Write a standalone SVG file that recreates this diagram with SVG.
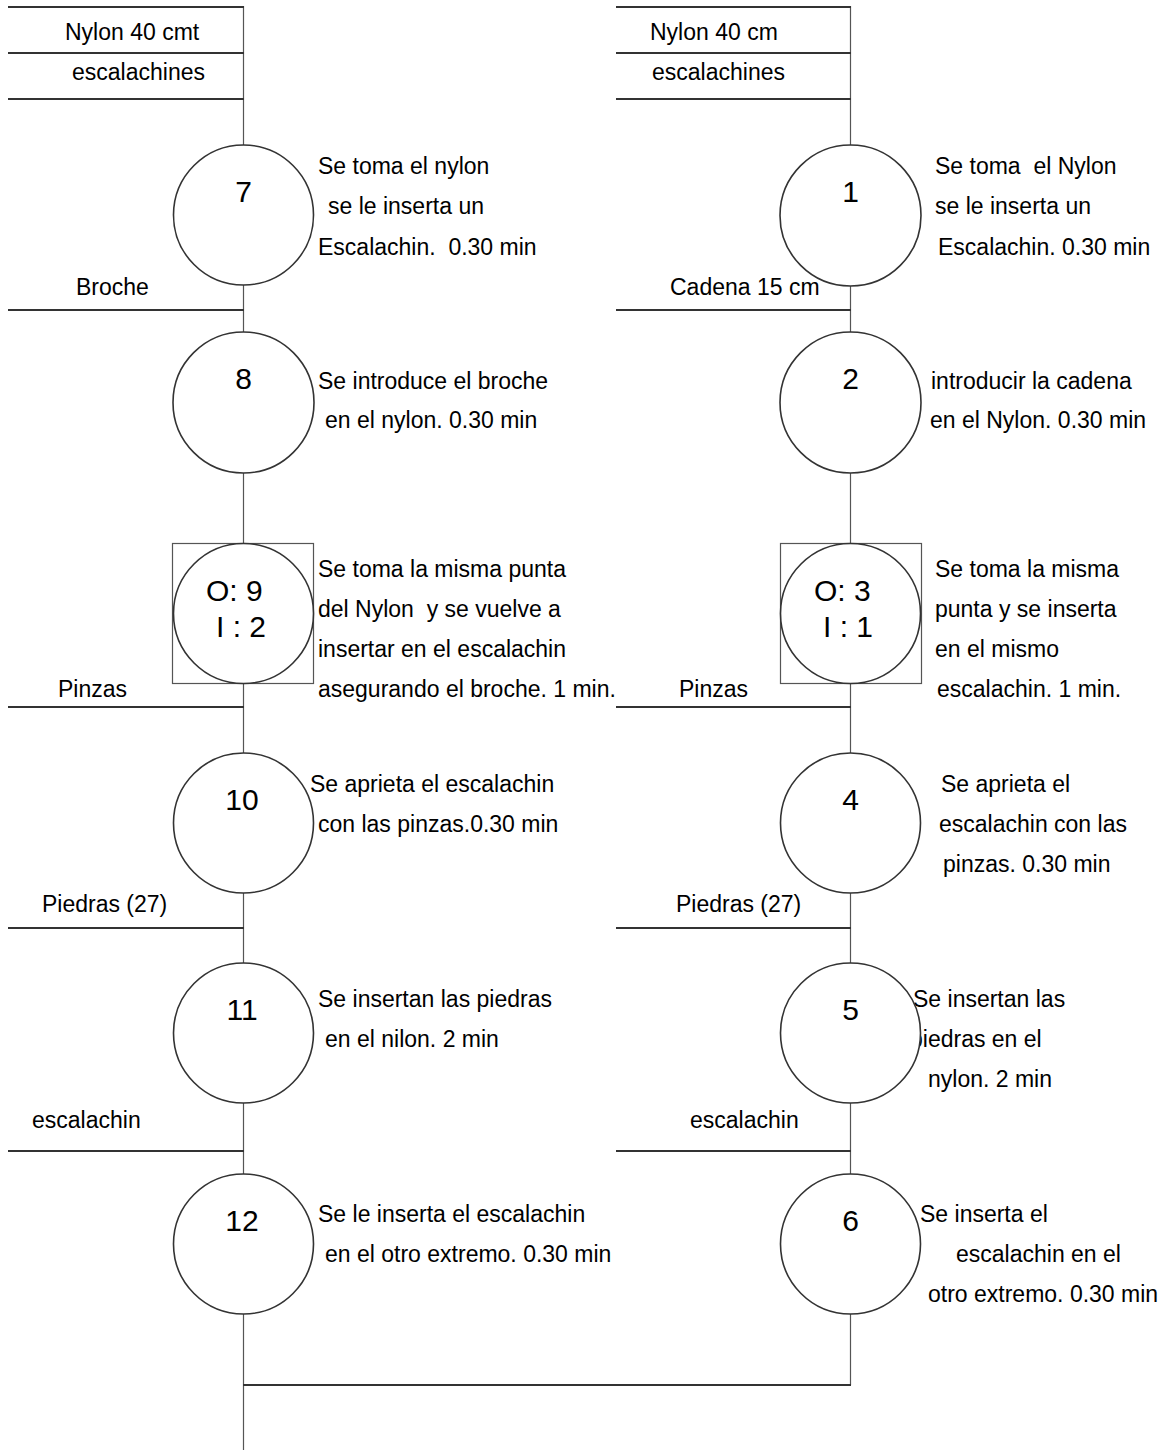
<svg xmlns="http://www.w3.org/2000/svg" width="1171" height="1451" viewBox="0 0 1171 1451">
<style>
text{font-family:"Liberation Sans",Arial,sans-serif;font-size:23px;fill:#000;white-space:pre}
.num{font-size:30px;text-anchor:middle}
.oi{font-size:30px}
.h{stroke:#333;stroke-width:2;fill:none}
.v{stroke:#555;stroke-width:1.2;fill:none}
.op{fill:#fff;stroke:#333;stroke-width:1.6}
.sq{fill:#fff;stroke:#555;stroke-width:1.2}
</style>
<rect width="1171" height="1451" fill="#fff"/>
<g id="connectors">
<line class="v" x1="243.5" y1="6" x2="243.5" y2="1450"/>
<line class="v" x1="850.5" y1="6" x2="850.5" y2="1385"/>
<line class="h" x1="8" y1="7" x2="244" y2="7"/>
<line class="h" x1="8" y1="53" x2="244" y2="53"/>
<line class="h" x1="8" y1="99" x2="244" y2="99"/>
<line class="h" x1="8" y1="310" x2="244" y2="310"/>
<line class="h" x1="8" y1="707" x2="244" y2="707"/>
<line class="h" x1="8" y1="928" x2="244" y2="928"/>
<line class="h" x1="8" y1="1151" x2="244" y2="1151"/>
<line class="h" x1="616" y1="7" x2="851" y2="7"/>
<line class="h" x1="616" y1="53" x2="851" y2="53"/>
<line class="h" x1="616" y1="99" x2="851" y2="99"/>
<line class="h" x1="616" y1="310" x2="851" y2="310"/>
<line class="h" x1="616" y1="707" x2="851" y2="707"/>
<line class="h" x1="616" y1="928" x2="851" y2="928"/>
<line class="h" x1="616" y1="1151" x2="851" y2="1151"/>
<line class="h" x1="243" y1="1385" x2="851" y2="1385"/>
</g>
<g id="labels">
<text x="65" y="40">Nylon 40 cmt</text>
<text x="72" y="80">escalachines</text>
<text x="76" y="295">Broche</text>
<text x="58" y="697">Pinzas</text>
<text x="42" y="912">Piedras (27)</text>
<text x="32" y="1128">escalachin</text>
<text x="650" y="40">Nylon 40 cm</text>
<text x="652" y="80">escalachines</text>
<text x="670" y="295">Cadena 15 cm</text>
<text x="679" y="697">Pinzas</text>
<text x="676" y="912">Piedras (27)</text>
<text x="690" y="1128">escalachin</text>
</g>
<g id="op7">
<text x="318" y="174">Se toma el nylon</text>
<text x="328" y="214">se le inserta un</text>
<text x="318" y="255">Escalachin.  0.30 min</text>
<circle class="op" cx="243.5" cy="215" r="70"/>
<text class="num" x="243.5" y="202">7</text>
</g>
<g id="op8">
<text x="318" y="389">Se introduce el broche</text>
<text x="325" y="428">en el nylon. 0.30 min</text>
<circle class="op" cx="243.5" cy="402.5" r="70.5"/>
<text class="num" x="243.5" y="389">8</text>
</g>
<g id="op9">
<text x="318" y="577">Se toma la misma punta</text>
<text x="318" y="617">del Nylon  y se vuelve a</text>
<text x="318" y="657">insertar en el escalachin</text>
<text x="318" y="697">asegurando el broche. 1 min.</text>
<rect class="sq" x="172.5" y="543.5" width="141" height="140"/>
<circle class="op" cx="243.5" cy="613.5" r="70"/>
<text class="oi" x="206" y="601">O: 9</text>
<text class="oi" x="216" y="637">I : 2</text>
</g>
<g id="op10">
<text x="310" y="792">Se aprieta el escalachin</text>
<text x="318" y="832">con las pinzas.0.30 min</text>
<circle class="op" cx="243.5" cy="823" r="70"/>
<text class="num" x="242" y="810">10</text>
</g>
<g id="op11">
<text x="318" y="1007">Se insertan las piedras</text>
<text x="325" y="1047">en el nilon. 2 min</text>
<circle class="op" cx="243.5" cy="1033" r="70"/>
<text class="num" x="242" y="1020">11</text>
</g>
<g id="op12">
<text x="318" y="1222">Se le inserta el escalachin</text>
<text x="325" y="1262">en el otro extremo. 0.30 min</text>
<circle class="op" cx="243.5" cy="1244" r="70"/>
<text class="num" x="242" y="1231">12</text>
</g>
<g id="op1">
<text x="935" y="174">Se toma  el Nylon</text>
<text x="935" y="214">se le inserta un</text>
<text x="938" y="255">Escalachin. 0.30 min</text>
<circle class="op" cx="850.5" cy="215.5" r="70.5"/>
<text class="num" x="850.5" y="202">1</text>
</g>
<g id="op2">
<text x="931" y="389">introducir la cadena</text>
<text x="930" y="428">en el Nylon. 0.30 min</text>
<circle class="op" cx="850.5" cy="402.5" r="70.5"/>
<text class="num" x="850.5" y="389">2</text>
</g>
<g id="op3">
<text x="935" y="577">Se toma la misma</text>
<text x="935" y="617">punta y se inserta</text>
<text x="935" y="657">en el mismo</text>
<text x="937" y="697">escalachin. 1 min.</text>
<rect class="sq" x="780.5" y="543.5" width="141" height="140"/>
<circle class="op" cx="850.5" cy="613.5" r="70"/>
<text class="oi" x="814" y="601">O: 3</text>
<text class="oi" x="823" y="637">I : 1</text>
</g>
<g id="op4">
<text x="941" y="792">Se aprieta el</text>
<text x="939" y="832">escalachin con las</text>
<text x="943" y="872">pinzas. 0.30 min</text>
<circle class="op" cx="850.5" cy="823" r="70"/>
<text class="num" x="850.5" y="810">4</text>
</g>
<g id="op5">
<text x="913" y="1007">Se insertan las</text>
<text x="910" y="1047">piedras en el</text>
<text x="928" y="1087">nylon. 2 min</text>
<circle class="op" cx="850.5" cy="1033" r="70"/>
<text class="num" x="850.5" y="1020">5</text>
</g>
<g id="op6">
<text x="920" y="1222">Se inserta el</text>
<text x="956" y="1262">escalachin en el</text>
<text x="928" y="1302">otro extremo. 0.30 min</text>
<circle class="op" cx="850.5" cy="1244" r="70"/>
<text class="num" x="850.5" y="1231">6</text>
</g>
</svg>
